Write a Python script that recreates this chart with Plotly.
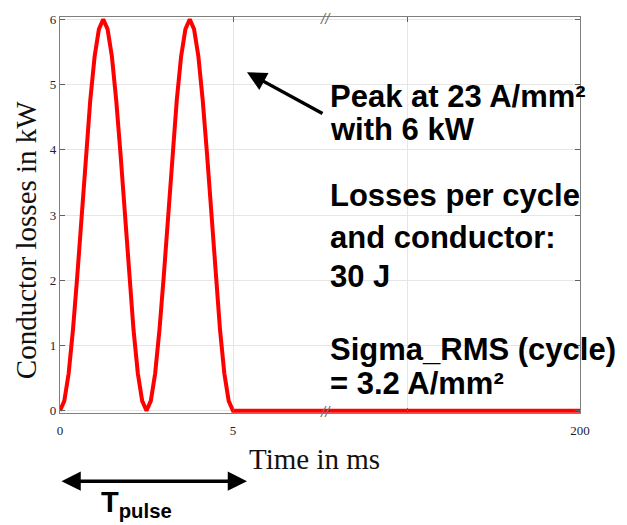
import plotly.graph_objects as go

# Conductor losses over one cycle: two pulses within 5 ms, then zero up to 200 ms
time_ms = [0, 0.125, 0.25, 0.375, 0.5, 0.625, 0.75, 0.875, 1.0, 1.125, 1.25,
           1.375, 1.5, 1.625, 1.75, 1.875, 2.0, 2.125, 2.25, 2.375, 2.5,
           2.625, 2.75, 2.875, 3.0, 3.125, 3.25, 3.375, 3.5, 3.625, 3.75,
           3.875, 4.0, 4.125, 4.25, 4.375, 4.5, 4.625, 4.75, 4.875, 5.0, 200]
loss_kw = [0, 0.15, 0.57, 1.24, 2.07, 3.0, 3.93, 4.76, 5.43, 5.85, 6.0,
           5.85, 5.43, 4.76, 3.93, 3.0, 2.07, 1.24, 0.57, 0.15, 0,
           0.15, 0.57, 1.24, 2.07, 3.0, 3.93, 4.76, 5.43, 5.85, 6.0,
           5.85, 5.43, 4.76, 3.93, 3.0, 2.07, 1.24, 0.57, 0.15, 0, 0]

y_ticks = [0, 1, 2, 3, 4, 5, 6]
x_ticks_left = [0, 5]
x_ticks_right = [100, 200]
x_ticktext_right = ["", "200"]

W, H = 627, 525
ML, MR, MT, MB = 60, 47, 12, 112
PW, PH = W - ML - MR, H - MT - MB


def px(x):
    return (x - ML) / PW


def py(y):
    return (H - MB - y) / PH


SERIF = "Liberation Serif, Times New Roman, serif"
SANS = "Liberation Sans, Arial, sans-serif"
GRID = "#e6e6e6"
AXIS = "#808080"
RED = "#ff0000"

split = px(325)

fig = go.Figure()
for xa, ya in (("x", "y"), ("x2", "y2")):
    fig.add_trace(go.Scatter(
        x=time_ms, y=loss_kw, mode="lines", xaxis=xa, yaxis=ya,
        line=dict(color=RED, width=4), hoverinfo="skip", showlegend=False,
    ))

common_x = dict(showline=True, linecolor=AXIS, linewidth=1.3, mirror="ticks",
                ticks="inside", ticklen=5, tickcolor="#606060",
                showgrid=True, gridcolor=GRID, gridwidth=1, zeroline=False,
                tickfont=dict(family=SERIF, size=13, color="#222230"),
                ticklabelstandoff=5)
common_y = dict(range=[-0.035, 6.035], tickvals=y_ticks, showline=True,
                linecolor=AXIS, linewidth=1.3, ticks="inside", ticklen=5,
                tickcolor="#606060", showgrid=True, gridcolor=GRID,
                gridwidth=1, zeroline=False,
                tickfont=dict(family=SERIF, size=13, color="#222230"))

fig.update_layout(
    width=W, height=H,
    margin=dict(l=ML, r=MR, t=MT, b=MB, pad=0),
    paper_bgcolor="white", plot_bgcolor="white",
    xaxis=dict(domain=[0, split], range=[0, 7.659], tickvals=x_ticks_left,
               anchor="y", **common_x),
    xaxis2=dict(domain=[split, 1], range=[52.6, 200], tickvals=x_ticks_right,
                ticktext=x_ticktext_right, anchor="y2", **common_x),
    yaxis=dict(anchor="x", side="left", mirror=False, **common_y),
    yaxis2=dict(anchor="x2", side="right", mirror=False,
                showticklabels=False, **common_y),
)

annotations = []

# axis titles
annotations.append(dict(x=px(314), y=py(460), xref="paper", yref="paper",
                        text="Time in ms", showarrow=False,
                        font=dict(family=SERIF, size=29, color="#111"),
                        xanchor="center", yanchor="middle"))
annotations.append(dict(x=px(26), y=py(238), xref="paper", yref="paper",
                        text="Conductor losses in kW", showarrow=False,
                        textangle=-90,
                        font=dict(family=SERIF, size=29, color="#111"),
                        xanchor="center", yanchor="middle"))

# axis break marks
for yb in (14, 411):
    annotations.append(dict(x=split, y=py(yb), xref="paper", yref="paper",
                            text="<i>//</i>", showarrow=False,
                            font=dict(family=SANS, size=15, color="#707078"),
                            xanchor="center", yanchor="middle"))

# explanatory text block
notes = [
    ("Peak at 23 A/mm²", 92),
    ("with 6 kW", 126),
    ("Losses per cycle", 193),
    ("and conductor:", 235),
    ("30 J", 275),
    ("Sigma_RMS (cycle)", 349),
    ("= 3.2 A/mm²", 383),
]
for txt, yc in notes:
    annotations.append(dict(x=px(328), y=py(yc), xref="paper", yref="paper",
                            text=f"<b>{txt}</b>", showarrow=False,
                            font=dict(family=SANS, size=31, color="black"),
                            xanchor="left", yanchor="middle"))

# arrow pointing at the peak
annotations.append(dict(x=px(247), y=py(68), xref="paper", yref="paper",
                        ax=77, ay=42, text="", showarrow=True,
                        arrowhead=2, arrowsize=1.1, arrowwidth=3.5,
                        arrowcolor="black"))

# pulse duration arrow and label
annotations.append(dict(x=px(247), y=py(482), xref="paper", yref="paper",
                        ax=-187, ay=0, text="", showarrow=True,
                        arrowhead=2, startarrowhead=2, arrowside="end+start",
                        arrowsize=1.1, startarrowsize=1.1, arrowwidth=3.5,
                        arrowcolor="black"))
annotations.append(dict(x=px(99), y=py(505), xref="paper", yref="paper",
                        text="<b>T<sub>pulse</sub></b>", showarrow=False,
                        font=dict(family=SANS, size=29, color="black"),
                        xanchor="left", yanchor="middle"))

fig.update_layout(annotations=annotations)

fig.write_html("out.html")
